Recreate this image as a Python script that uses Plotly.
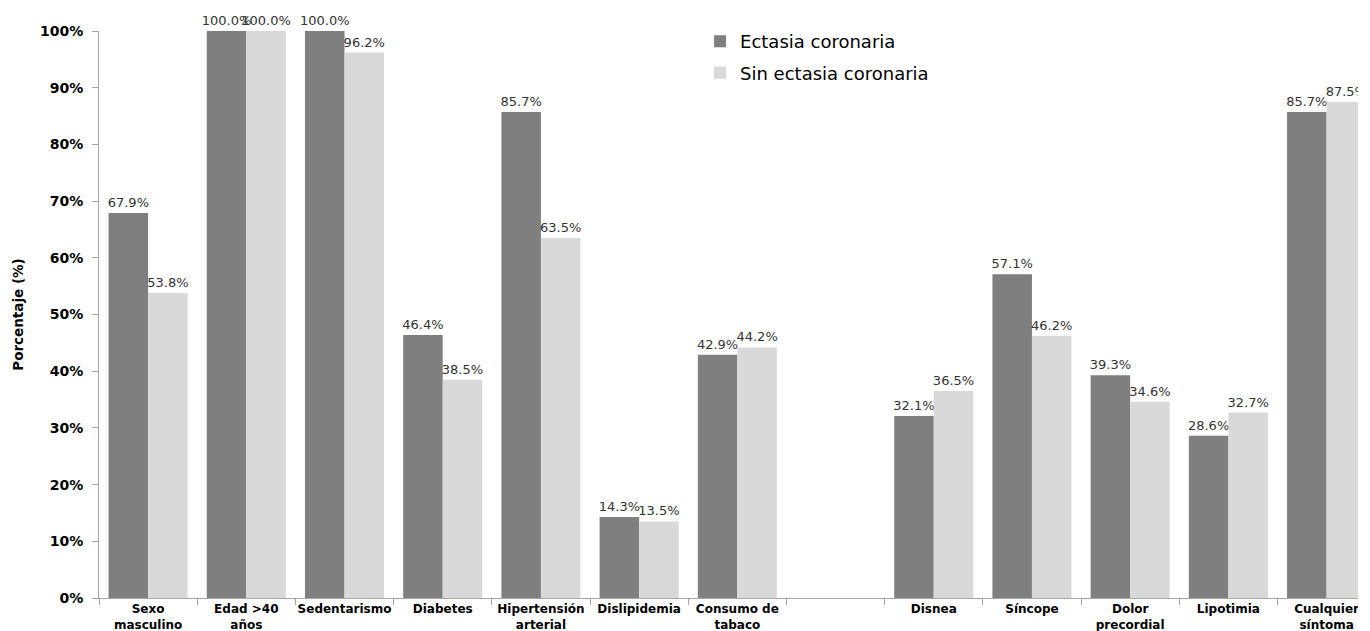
import plotly.graph_objects as go

categories = ["Sexo<br>masculino", "Edad >40<br>años", "Sedentarismo", "Diabetes",
              "Hipertensión<br>arterial", "Dislipidemia", "Consumo de<br>tabaco", " ",
              "Disnea", "Síncope", "Dolor<br>precordial", "Lipotimia", "Cualquier<br>síntoma"]
ectasia = [67.9, 100.0, 100.0, 46.4, 85.7, 14.3, 42.9, None, 32.1, 57.1, 39.3, 28.6, 85.7]
sin_ectasia = [53.8, 100.0, 96.2, 38.5, 63.5, 13.5, 44.2, None, 36.5, 46.2, 34.6, 32.7, 87.5]
series_names = ["Ectasia coronaria", "Sin ectasia coronaria"]
colors = ["#7f7f7f", "#d9d9d9"]

FONT = "DejaVu Sans"

def labels(vals):
    return ["" if v is None else f"{v:.1f}%" for v in vals]

fig = go.Figure()
for i, (name, vals) in enumerate(zip(series_names, [ectasia, sin_ectasia])):
    fig.add_trace(go.Bar(
        x=categories, y=vals, name=name,
        marker=dict(color=colors[i], line=dict(width=0)),
        text=labels(vals), textposition="outside", cliponaxis=False,
        constraintext="none",
        textfont=dict(family=FONT, size=13, color="#333333"),
        legendgroup=f"g{i}",
    ))

fig.update_layout(
    width=1370, height=631,
    margin=dict(l=99, r=12, t=31, b=33),
    paper_bgcolor="white", plot_bgcolor="white",
    barmode="group", bargap=0.195, bargroupgap=0,
    font=dict(family=FONT, color="#000000"),
    legend=dict(x=0.4774, y=1.014, xanchor="left", yanchor="top",
                font=dict(family=FONT, size=18, color="#000000"),
                bgcolor="rgba(0,0,0,0)", tracegroupgap=5, traceorder="grouped"),
    xaxis=dict(range=[-0.5, 12.32], automargin=False, showline=True,
               linecolor="#a6a6a6", linewidth=1, ticks="outside", tickson="boundaries",
               ticklen=6, tickcolor="#a6a6a6",
               tickfont=dict(family=FONT, size=12, color="#000000", weight="bold"),
               showgrid=False, zeroline=False, tickangle=0),
    yaxis=dict(range=[0, 100], dtick=10, ticksuffix="%", automargin=False,
               showline=True, linecolor="#a6a6a6", linewidth=1,
               ticks="outside", ticklen=6, tickcolor="#a6a6a6",
               ticklabelstandoff=6,
               tickfont=dict(family=FONT, size=14, color="#000000", weight="bold"),
               showgrid=False, zeroline=False,
               title=dict(text="<b>Porcentaje (%)</b>", standoff=13,
                          font=dict(family=FONT, size=13.5, color="#000000"))),
    shapes=[dict(type="rect", xref="paper", yref="paper", x0=1.0, x1=1.02,
                 y0=-0.1, y1=1.1, fillcolor="white", line=dict(width=0), layer="above")],
)

fig.write_html("out.html")
